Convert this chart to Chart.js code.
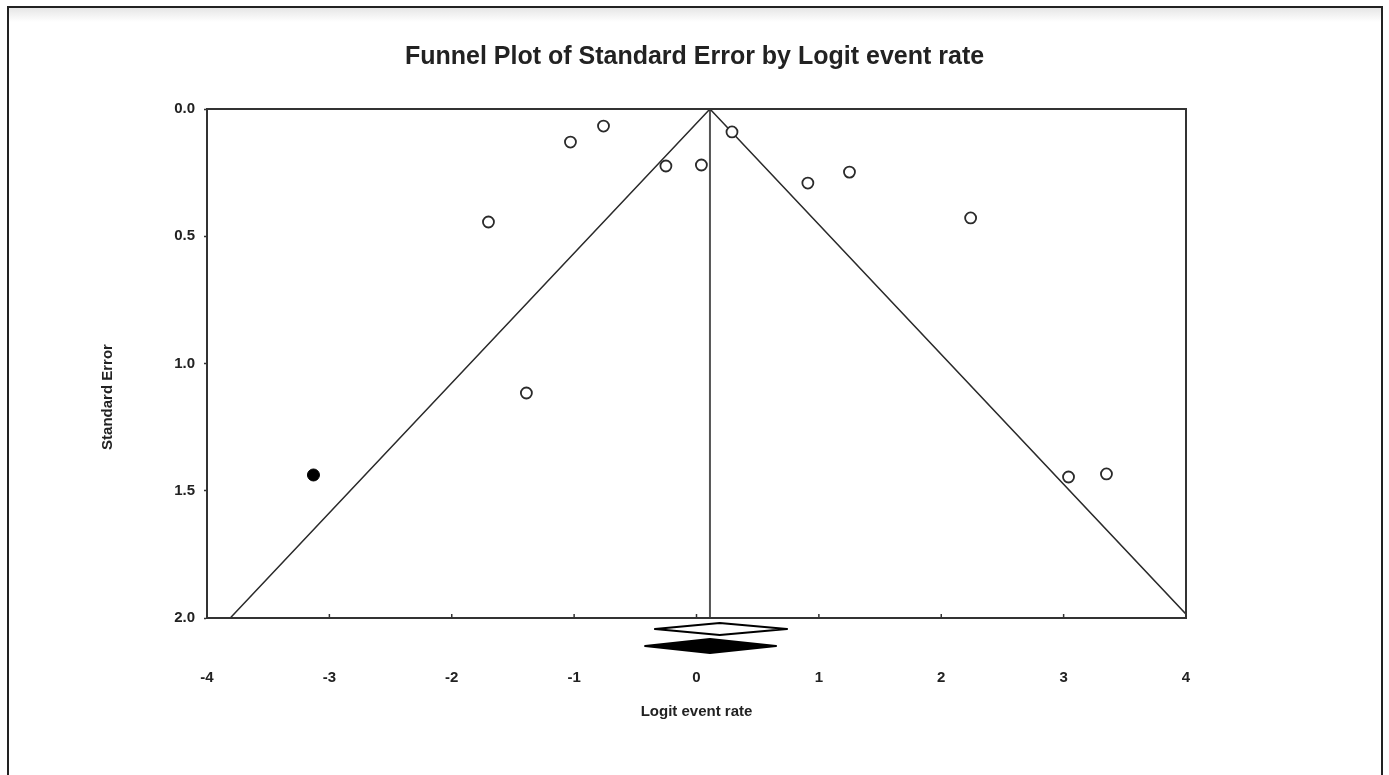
<!DOCTYPE html>
<html>
<head>
<meta charset="utf-8">
<script src="https://cdn.jsdelivr.net/npm/chart.js@4.4.1/dist/chart.umd.min.js"></script>
<style>
  html, body { margin: 0; padding: 0; background: #fff; }
  body { width: 1389px; height: 775px; overflow: hidden; position: relative; }
  #frame {
    position: absolute; left: 7px; top: 6px; width: 1372px; height: 800px;
    border: 2px solid #222;
    background: linear-gradient(#e6e6e6, #fff 14px);
  }
  #chart { position: absolute; left: 0; top: 0; }
</style>
</head>
<body>
<div id="frame"></div>
<canvas id="chart" width="1389" height="775"></canvas>
<script>
// logit event rate / standard error per study
const studyX = [-0.76, -1.03, -0.25, 0.04, 0.29, 0.91, 1.25, 2.24, -1.70, -1.39, 3.04, 3.35];
const studyY = [0.067, 0.130, 0.224, 0.220, 0.090, 0.291, 0.248, 0.428, 0.444, 1.116, 1.446, 1.434];
// imputed study (trim and fill)
const imputedX = [-3.13];
const imputedY = [1.438];

// pooled estimates: observed (open) and adjusted (filled)
const pooled = [0.19, 0.11];
const pooledLow = [-0.34, -0.42];
const pooledHigh = [0.74, 0.65];

const xTicks = [-4, -3, -2, -1, 0, 1, 2, 3, 4];
const yTicks = [0.0, 0.5, 1.0, 1.5, 2.0];

const chartTitle = "Funnel Plot of Standard Error by Logit event rate";
const yTitle = "Standard Error";
const center = pooled[1];
const seMax = 2;
const family = "'Liberation Sans', Arial, sans-serif";
const font = { family, weight: "bold", size: 15 };
const ink = "#222";

// titles, box round the plot, inward x ticks, pooled diamonds under the axis
const funnelExtras = {
  id: "funnelExtras",
  afterDatasetsDraw(chart) {
    const { ctx, chartArea: a, scales: { x } } = chart;
    ctx.save();
    ctx.fillStyle = ink;
    ctx.textAlign = "center";
    ctx.textBaseline = "middle";
    ctx.font = `bold 25px ${family}`;
    ctx.fillText(chartTitle, chart.width / 2, 57);

    ctx.save();
    ctx.translate(108, 397);
    ctx.rotate(-Math.PI / 2);
    ctx.font = `bold 15px ${family}`;
    ctx.fillText(yTitle, 0, 0);
    ctx.restore();

    ctx.strokeStyle = "#333";
    ctx.lineWidth = 2;
    ctx.strokeRect(a.left, a.top, a.right - a.left, a.bottom - a.top);

    ctx.lineWidth = 1.5;
    xTicks.forEach(v => {
      const px = x.getPixelForValue(v);
      ctx.beginPath();
      ctx.moveTo(px, a.bottom);
      ctx.lineTo(px, a.bottom - 4);
      ctx.stroke();
    });

    const rows = [{ dy: 11, h: 6, fill: "#fff" }, { dy: 28, h: 7, fill: "#000" }];
    ctx.lineJoin = "round";
    rows.forEach((r, i) => {
      const lo = x.getPixelForValue(pooledLow[i]);
      const hi = x.getPixelForValue(pooledHigh[i]);
      const c = x.getPixelForValue(pooled[i]);
      const y = a.bottom + r.dy;
      ctx.beginPath();
      ctx.moveTo(lo, y);
      ctx.lineTo(c, y - r.h);
      ctx.lineTo(hi, y);
      ctx.lineTo(c, y + r.h);
      ctx.closePath();
      ctx.fillStyle = r.fill;
      ctx.fill();
      ctx.strokeStyle = "#000";
      ctx.lineWidth = 2;
      ctx.stroke();
    });
    ctx.restore();
  }
};

new Chart(document.getElementById("chart"), {
  type: "scatter",
  data: {
    datasets: [
      {
        type: "line",
        data: [
          { x: center - 1.96 * seMax, y: seMax },
          { x: center, y: 0 },
          { x: center + 1.96 * seMax, y: seMax }
        ],
        borderColor: "#2a2a2a",
        borderWidth: 1.5,
        pointRadius: 0,
        fill: false,
        order: 3
      },
      {
        type: "line",
        data: [{ x: center, y: 0 }, { x: center, y: seMax }],
        borderColor: "#555",
        borderWidth: 2,
        pointRadius: 0,
        fill: false,
        order: 3
      },
      {
        data: studyX.map((v, i) => ({ x: v, y: studyY[i] })),
        pointRadius: 5.5,
        pointBorderWidth: 1.8,
        borderColor: "#2a2a2a",
        backgroundColor: "#fff",
        order: 1
      },
      {
        data: imputedX.map((v, i) => ({ x: v, y: imputedY[i] })),
        pointRadius: 6,
        pointBorderWidth: 1,
        borderColor: "#000",
        backgroundColor: "#000",
        order: 1
      }
    ]
  },
  options: {
    responsive: false,
    animation: false,
    devicePixelRatio: 1,
    layout: { padding: { left: 90, right: 203, top: 109, bottom: 54 } },
    plugins: {
      legend: { display: false },
      tooltip: { enabled: false },
      title: { display: false }
    },
    scales: {
      x: {
        type: "linear",
        min: -4,
        max: 4,
        afterBuildTicks: s => { s.ticks = xTicks.map(v => ({ value: v })); },
        afterFit: s => { s.height = 103; },
        grid: { display: true, drawOnChartArea: false, drawTicks: false },
        border: { color: "#333", width: 2 },
        ticks: { color: ink, font, padding: 51, maxRotation: 0 },
        title: {
          display: true,
          text: "Logit event rate",
          color: ink,
          font,
          padding: { top: 0, bottom: 0 }
        }
      },
      y: {
        type: "linear",
        reverse: true,
        min: 0,
        max: seMax,
        afterBuildTicks: s => { s.ticks = yTicks.map(v => ({ value: v })); },
        afterFit: s => { s.width = 117; },
        grid: { display: true, drawOnChartArea: false, drawTicks: true, tickLength: 3, color: "#333", tickWidth: 1.5 },
        border: { color: "#333", width: 2 },
        ticks: { color: ink, font, padding: 9, callback: v => v.toFixed(1) },
        title: { display: false }
      }
    }
  },
  plugins: [funnelExtras]
});
</script>
</body>
</html>
